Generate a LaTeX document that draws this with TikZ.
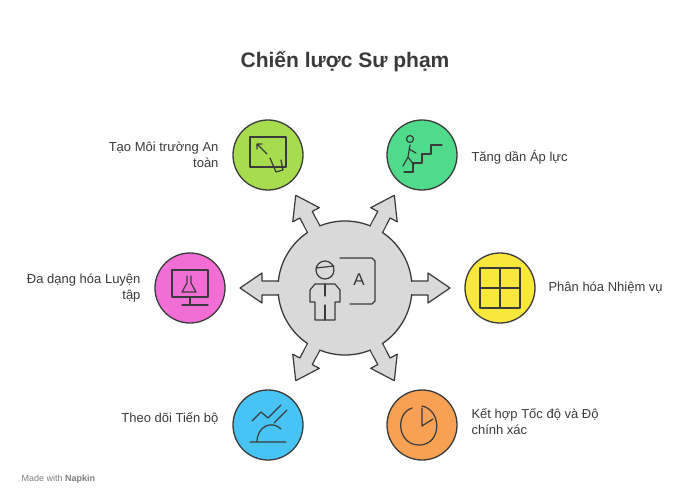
\documentclass[tikz,border=0pt]{standalone}
\usepackage{fontspec}
\setmainfont{Liberation Sans}
\definecolor{ink}{HTML}{3A3A3A}
\definecolor{hubgray}{HTML}{D9D9D9}
\definecolor{cLime}{HTML}{A6DC4E}
\definecolor{cMint}{HTML}{4FDA8C}
\definecolor{cYellow}{HTML}{F8E83C}
\definecolor{cPink}{HTML}{F06ED6}
\definecolor{cBlue}{HTML}{48C4F4}
\definecolor{cOrange}{HTML}{F8A155}
\begin{document}
\begin{tikzpicture}[x=1pt,y=-1pt,line join=round]
\tikzset{sat/.style={circle,draw=ink,line width=1.3pt,minimum size=70pt,inner sep=0pt},
  lbl/.style={font=\fontsize{13pt}{16pt}\selectfont,text=ink,align=left},
  ico/.style={draw=ink,line width=1.2pt,line cap=round}}
\useasboundingbox (0,0) rectangle (700,502);
\node[font=\bfseries\fontsize{21pt}{25pt}\selectfont,text=ink] (title) at (345,62) {Chiến lược Sư phạm};
% arrows
\foreach \a in {0,62,118,180,242,298}{
  \draw[ink,fill=hubgray,line width=1.2pt,rotate around={-\a:(345,288)}]
    (395,281) -- (428,281) -- (428,273) -- (450,288) -- (428,303) -- (428,295) -- (395,295) -- cycle;
}
\node[circle,draw=ink,fill=hubgray,line width=1.3pt,minimum size=134pt] (hub) at (345,288) {};
\foreach \a in {0,62,118,180,242,298}{
  \fill[hubgray,rotate around={-\a:(345,288)}] (400,281.7) rectangle (420,294.3);
}
% teacher icon
\draw[ico] (325,270) circle (9pt);
\draw[ico] (316,268) -- (334,266);
\draw[ico] (315,284) -- (335,284) -- (340,290) -- (340,302) -- (335,302) -- (335,320) -- (315,320) -- (315,302) -- (310,302) -- (310,290) -- cycle;
\draw[ico] (325,284) -- (325,296) (325,305) -- (325,320);
\draw[ico] (340,258) -- (372,258) -- (375,261) -- (375,301) -- (372,304) -- (350,304);
\node[font=\fontsize{17pt}{17pt}\selectfont,text=ink] (letA) at (359,280) {A};
% satellites
\node[sat,fill=cLime] (safe) at (268,155) {};
\node[sat,fill=cMint] (press) at (422,155) {};
\node[sat,fill=cYellow] (task) at (500,288) {};
\node[sat,fill=cPink] (drill) at (190,288) {};
\node[sat,fill=cBlue] (track) at (268,425) {};
\node[sat,fill=cOrange] (speed) at (422,425) {};
% satellite icons
\draw[ico] (250,137) rectangle (286,167);
\draw[ico] (257,144) -- (267,154) (257,144) -- (257,149) (257,144) -- (262,144);
\draw[ico] (270,158) -- (276,172) -- (283,170) -- (281,160);
\draw[ico] (404,172) -- (413,172) -- (413,163) -- (422,163) -- (422,154) -- (431,154) -- (431,145) -- (442,145);
\draw[ico] (410,139) circle (3.5pt) (410,145) -- (408,157) -- (403,166) (408,157) -- (414,165) (409,149) -- (416,153);
\draw[ico] (480,268) rectangle (520,308) (500,268) -- (500,308) (480,288) -- (520,288);
\draw[ico] (172,270) rectangle (208,297) (182,305) -- (208,305) (190,297) -- (190,305);
\draw[ico] (187,276) -- (187,283) -- (182,292) -- (196,292) -- (191,283) -- (191,276);
\draw[ico] (250,442) -- (286,442) (257,442) .. controls (257,426) and (272,420) .. (281,429);
\draw[ico] (252,421) -- (261,412) -- (268,418) -- (281,405);
\draw[ico] (274,423) -- (287,410);
\draw[ico] (412,408) .. controls (394,414) and (398,446) .. (420,445) .. controls (442,444) and (442,410) .. (422,406);
\draw[ico] (422,408) -- (422,426) -- (433,419);
% labels
\node[lbl,align=right,anchor=east] (safeL) at (222,155) {Tạo Môi trường An\\toàn};
\node[lbl,anchor=west] (pressL) at (468,157) {Tăng dần Áp lực};
\node[lbl,anchor=west] (taskL) at (545,288) {Phân hóa Nhiệm vụ};
\node[lbl,align=right,anchor=east] (drillL) at (144,288) {Đa dạng hóa Luyện\\tập};
\node[lbl,anchor=east] (trackL) at (222,418) {Theo dõi Tiến bộ};
\node[lbl,anchor=west] (speedL) at (468,422) {Kết hợp Tốc độ và Độ\\chính xác};
\node[font=\fontsize{9pt}{10pt}\selectfont,text=gray,anchor=west] (brand) at (18,479) {Made with \textbf{Napkin}};
\end{tikzpicture}
\end{document}
